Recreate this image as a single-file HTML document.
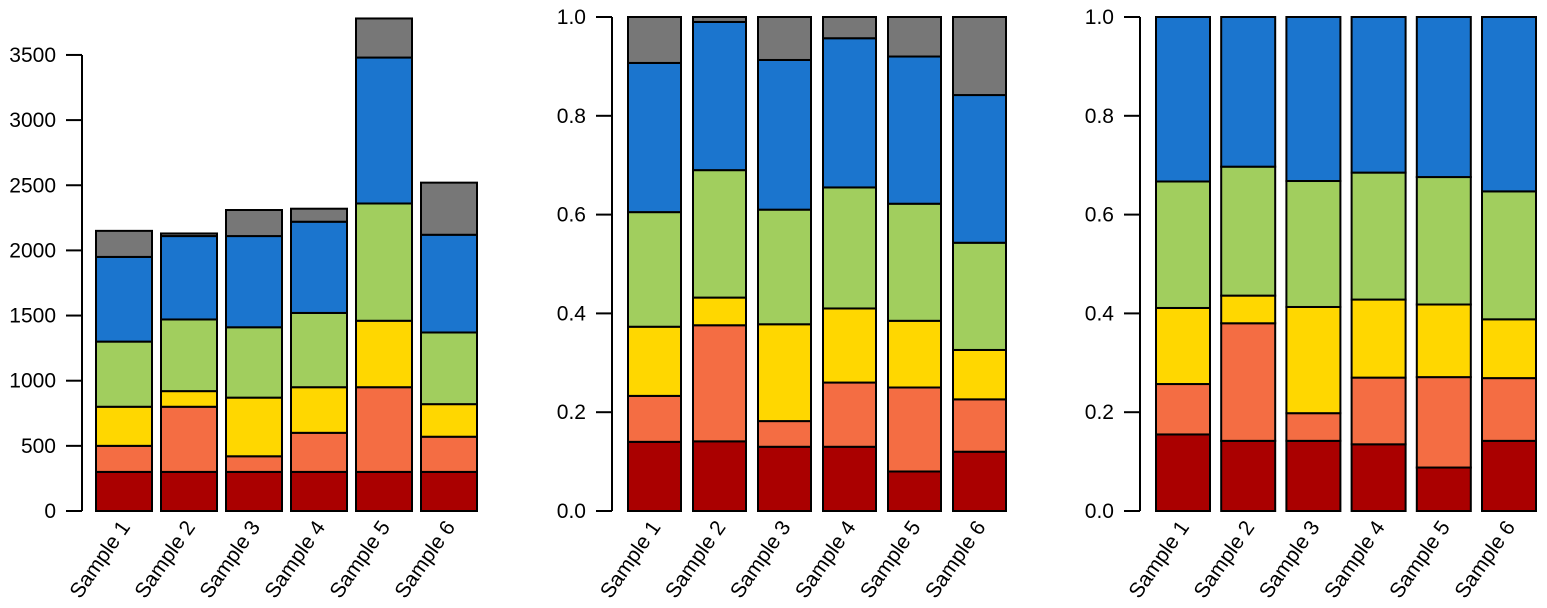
<!DOCTYPE html>
<html><head><meta charset="utf-8"><style>
html,body{margin:0;padding:0;background:#fff;}
svg text{font-family:"Liberation Sans",sans-serif;fill:#000;}
</style></head><body>
<svg id="s" width="1547" height="603" xmlns="http://www.w3.org/2000/svg"></svg>
<script>
const C=["#AA0000","#F46D43","#FFD700","#A1CE5E","#1B75CE","#777777"];
const svg=document.getElementById('s');
function el(t,a,txt){const e=document.createElementNS("http://www.w3.org/2000/svg",t);for(const k in a)e.setAttribute(k,a[k]);if(txt!==undefined)e.textContent=txt;svg.appendChild(e);return e;}
function chart(ax,x0,w,step,y0,scale,ticks,labels,data){
  el('line',{x1:ax,y1:y0-ticks[ticks.length-1]*scale,x2:ax,y2:y0,stroke:'#000','stroke-width':2});
  ticks.forEach((t,i)=>{const y=y0-t*scale;el('line',{x1:ax-16,y1:y,x2:ax,y2:y,stroke:'#000','stroke-width':2});
    el('text',{x:ax-26,y:y+7,'text-anchor':'end','font-size':21},labels[i]);});
  data.forEach((d,i)=>{const x=x0+i*step;let prev=0;
    d.forEach((v,j)=>{if(v<=prev)return;
      el('rect',{x:x,y:y0-v*scale,width:w,height:(v-prev)*scale,fill:C[j],stroke:'#000','stroke-width':2});prev=v;});
    const cx=x+w/2+7;el('text',{x:cx,y:527,'text-anchor':'end','font-size':21,transform:`rotate(-55 ${cx} 527)`},'Sample '+(i+1));
  });
}
chart(82,96,56,65,511,0.1303,[0,500,1000,1500,2000,2500,3000,3500],["0","500","1000","1500","2000","2500","3000","3500"],[
[300,500,800,1300,1950,2150],[300,800,920,1470,2110,2130],[300,420,870,1410,2110,2310],
[300,600,950,1520,2220,2320],[300,950,1460,2360,3480,3780],[300,570,820,1370,2120,2520]]);
chart(612,628,53,65,511,494,[0,.2,.4,.6,.8,1],["0.0","0.2","0.4","0.6","0.8","1.0"],[
[.14,.233,.373,.605,.907,1],[.141,.376,.432,.69,.99,1],[.13,.182,.378,.61,.913,1],
[.13,.26,.41,.655,.957,1],[.08,.25,.385,.622,.92,1],[.12,.226,.326,.543,.842,1]]);
chart(1140,1156,54,65.2,511,494,[0,.2,.4,.6,.8,1],["0.0","0.2","0.4","0.6","0.8","1.0"],[
[.155,.257,.411,.667,1],[.142,.38,.436,.697,1],[.142,.198,.413,.668,1],
[.135,.27,.428,.685,1],[.088,.271,.418,.676,1],[.142,.269,.388,.647,1]]);
</script>
</body></html>
